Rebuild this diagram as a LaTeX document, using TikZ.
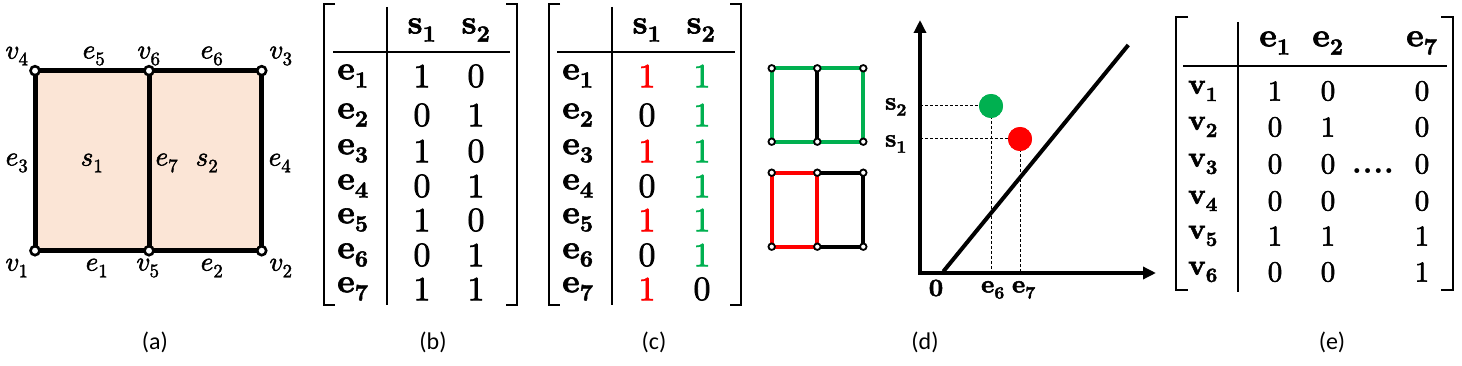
\documentclass[tikz,border=0pt]{standalone}
\usepackage{fontspec}
\usepackage{unicode-math}
\setmathfont{latinmodern-math.otf}[FakeBold=2]
\newfontfamily\capfont{Carlito}
\usetikzlibrary{arrows.meta}
\definecolor{peach}{HTML}{FBE5D6}
\definecolor{ogreen}{HTML}{00B050}
\definecolor{ored}{HTML}{FF0000}
\newcommand\bE[1]{\symbf{e}_{\symbf{#1}}}
\newcommand\bS[1]{\symbf{s}_{\symbf{#1}}}
\newcommand\bV[1]{\symbf{v}_{\symbf{#1}}}
\tikzset{
  edgeA/.style={line width=5pt, line join=miter},
  vtxA/.style={circle, draw=black, fill=white, line width=2.6pt, minimum size=9pt, inner sep=0pt},
  vtxD/.style={circle, draw=black, fill=white, line width=1.8pt, minimum size=6.5pt, inner sep=0pt},
  edgeD/.style={line width=4pt},
  lblA/.style={inner sep=0pt, font=\fontsize{27}{30}\selectfont},
  captxt/.style={inner sep=0pt, font=\capfont\fontsize{24}{28}\selectfont},
  brk/.style={line width=2.6pt, line join=miter},
  tline/.style={line width=2.6pt},
  hdr/.style={inner sep=0pt, font=\fontsize{33}{36}\selectfont},
  rowl/.style={inner sep=0pt, font=\fontsize{33}{36}\selectfont},
  val/.style={inner sep=0pt, font=\fontsize{34}{36}\selectfont},
  hdrE/.style={inner sep=0pt, font=\fontsize{33}{36}\selectfont},
  rowE/.style={inner sep=0pt, font=\fontsize{29}{32}\selectfont},
  valE/.style={inner sep=0pt, font=\fontsize{29}{32}\selectfont},
  lblD/.style={inner sep=0pt, font=\fontsize{25}{28}\selectfont},
  axis/.style={line width=4pt, line join=miter},
  dsh/.style={line width=1pt, dash pattern=on 3pt off 2pt},
}
\begin{document}
\begin{tikzpicture}[x=1pt,y=-1pt]
\useasboundingbox (0,0) rectangle (1462,366);

% ---------------- (a) ----------------
\coordinate (v4) at (35,70.7);
\coordinate (v6) at (149,70.7);
\coordinate (v3) at (261.7,70.7);
\coordinate (v1) at (35,250.7);
\coordinate (v5) at (149,250.7);
\coordinate (v2) at (261.7,250.7);
\fill[peach] (v4) rectangle (v2);
\draw[edgeA] (v1) -- (v5) -- (v2) -- (v3) -- (v6) -- (v4) -- cycle;
\draw[edgeA] (v5) -- (v6);
\foreach \v in {v1,v2,v3,v4,v5,v6} \node[vtxA] (c\v) at (\v) {};
\node[lblA] (lv4) at (17,56) {$v_4$};
\node[lblA] (le5) at (94,56) {$e_5$};
\node[lblA] (lv6) at (149,56) {$v_6$};
\node[lblA] (le6) at (212,56) {$e_6$};
\node[lblA] (lv3) at (281,56) {$v_3$};
\node[lblA] (le3) at (17,163) {$e_3$};
\node[lblA] (ls1) at (92,163) {$s_1$};
\node[lblA] (le7) at (167,163) {$e_7$};
\node[lblA] (ls2) at (207,163) {$s_2$};
\node[lblA] (le4) at (280,163) {$e_4$};
\node[lblA] (lv1) at (17,268) {$v_1$};
\node[lblA] (le1) at (97,268) {$e_1$};
\node[lblA] (lv5) at (148,268) {$v_5$};
\node[lblA] (le2) at (212,268) {$e_2$};
\node[lblA] (lv2) at (281,268) {$v_2$};
\node[captxt] (capa) at (155,342) {(a)};

% ---------------- (b) ----------------
\draw[brk] (335,4) -- (324,4) -- (324,305) -- (335,305);
\draw[brk] (506,4) -- (517,4) -- (517,305) -- (506,305);
\draw[tline] (387,7) -- (387,305);
\draw[tline] (333,52) -- (510,52);
\node[hdr] (bs1) at (422,30) {$\bS1$};
\node[hdr] (bs2) at (476,30) {$\bS2$};
\foreach \i/\y/\a/\b in {1/76/1/0, 2/115/0/1, 3/151/1/0, 4/186/0/1, 5/220/1/0, 6/255/0/1, 7/289/1/1}{
  \node[rowl] (be\i) at (353,\y) {$\bE{\i}$};
  \node[val] (bva\i) at (422,\y) {$\a$};
  \node[val] (bvb\i) at (476,\y) {$\b$};
}
\node[captxt] (capb) at (433,342) {(b)};

% ---------------- (c) ----------------
\draw[brk] (560,4) -- (549,4) -- (549,305) -- (560,305);
\draw[brk] (730,4) -- (741,4) -- (741,305) -- (730,305);
\draw[tline] (612,7) -- (612,305);
\draw[tline] (557,52) -- (735,52);
\node[hdr] (cs1) at (647,30) {$\bS1$};
\node[hdr] (cs2) at (701,30) {$\bS2$};
\foreach \i/\y/\a/\ca/\b/\cb in {1/76/1/ored/1/ogreen, 2/115/0/black/1/ogreen, 3/151/1/ored/1/ogreen, 4/186/0/black/1/ogreen, 5/220/1/ored/1/ogreen, 6/255/0/black/1/ogreen, 7/289/1/ored/0/black}{
  \node[rowl] (ce\i) at (578,\y) {$\bE{\i}$};
  \node[val, text=\ca] (cva\i) at (647,\y) {$\a$};
  \node[val, text=\cb] (cvb\i) at (702,\y) {$\b$};
}
\node[captxt] (capc) at (654,342) {(c)};

% ---------------- (d) small graphs ----------------
\coordinate (g1) at (771.7,68.3);
\coordinate (g2) at (817.3,68.3);
\coordinate (g3) at (863.3,68.3);
\coordinate (g4) at (771.7,141.7);
\coordinate (g5) at (817.3,141.7);
\coordinate (g6) at (863.3,141.7);
\draw[edgeD, ogreen] (g2) -- (g1) -- (g4) -- (g5) -- (g6) -- (g3) -- (g2);
\draw[edgeD, black] (g2) -- (g5);
\foreach \v in {g1,g2,g3,g4,g5,g6} \node[vtxD] (c\v) at (\v) {};

\coordinate (h1) at (771.7,172.7);
\coordinate (h2) at (817.3,172.7);
\coordinate (h3) at (863.3,172.7);
\coordinate (h4) at (771.7,246.7);
\coordinate (h5) at (817.3,246.7);
\coordinate (h6) at (863.3,246.7);
\draw[edgeD, black] (h2) -- (h3) -- (h6) -- (h5);
\draw[edgeD, ored] (h5) -- (h2) -- (h1) -- (h4) -- (h5);
\foreach \v in {h1,h2,h3,h4,h5,h6} \node[vtxD] (c\v) at (\v) {};

% ---------------- (d) plot ----------------
\coordinate (ytop) at (920,20);
\coordinate (orig) at (920,273);
\coordinate (xend) at (1156,273);
\coordinate (lstart) at (943.3,271.5);
\coordinate (lend) at (1128.3,45);
\coordinate (gy) at (920,106);
\coordinate (ry) at (920,139);
\coordinate (gx) at (991,273);
\coordinate (rx) at (1020,273);
\node[circle, fill=ogreen, minimum size=24pt, inner sep=0pt] (gdot) at (991,106) {};
\node[circle, fill=ored, minimum size=24pt, inner sep=0pt] (rdot) at (1020,139) {};
\draw[dsh] (gy) -- (gdot.center);
\draw[dsh] (gdot.center) -- (gx);
\draw[dsh] (ry) -- (rdot.center);
\draw[dsh] (rdot.center) -- (rx);
\node[circle, fill=ogreen, minimum size=24pt, inner sep=0pt] (gdot2) at (gdot) {};
\node[circle, fill=ored, minimum size=24pt, inner sep=0pt] (rdot2) at (rdot) {};
\draw[line width=4pt] (lstart) -- (lend);
\draw[axis, {Triangle[length=13pt,width=12pt]}-{Triangle[length=13pt,width=12pt]}] (ytop) -- (orig) -- (xend);
\node[lblD] (ds2) at (896,107) {$\bS2$};
\node[lblD] (ds1) at (896,144) {$\bS1$};
\node[lblD] (d0) at (936,288) {$\symbf{0}$};
\node[lblD] (de6) at (993,290) {$\bE6$};
\node[lblD] (de7) at (1024,290) {$\bE7$};
\node[captxt] (capd) at (925,342) {(d)};

% ---------------- (e) ----------------
\draw[brk] (1188,17) -- (1176,17) -- (1176,290) -- (1188,290);
\draw[brk] (1441,17) -- (1453,17) -- (1453,290) -- (1441,290);
\draw[tline] (1238,22) -- (1238,292);
\draw[tline] (1183,66) -- (1447,66);
\node[hdrE] (ee1) at (1275,43) {$\bE1$};
\node[hdrE] (ee2) at (1328,43) {$\bE2$};
\node[hdrE] (ee7) at (1422,43) {$\bE7$};
\foreach \i/\y/\a/\b/\c in {1/91/1/0/0, 2/127/0/1/0, 3/164/0/0/0, 4/201/0/0/0, 5/236/1/1/1, 6/272/0/0/1}{
  \node[rowE] (ev\i) at (1203,\y) {$\bV{\i}$};
  \node[valE] (eva\i) at (1275,\y) {$\a$};
  \node[valE] (evb\i) at (1328,\y) {$\b$};
  \node[valE] (evc\i) at (1422,\y) {$\c$};
}
\node[inner sep=0pt, anchor=base, font=\bfseries\fontsize{34}{36}\selectfont] (edots) at (1373,174) {....};
\node[captxt] (cape) at (1332,342) {(e)};
\end{tikzpicture}
\end{document}
